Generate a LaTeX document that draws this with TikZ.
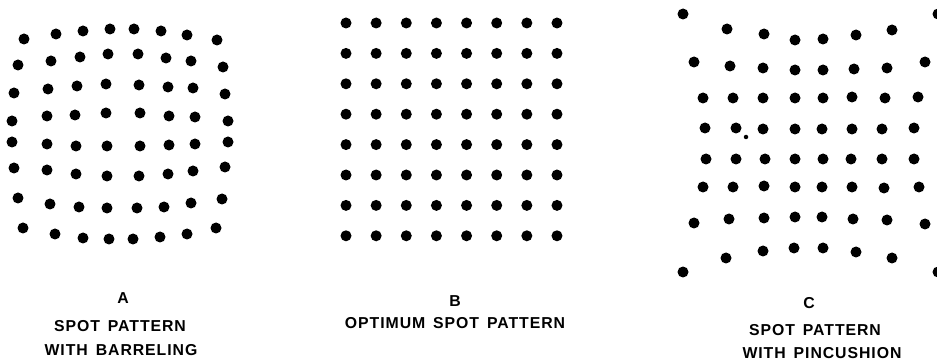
\documentclass[tikz,border=0pt]{standalone}
\usepackage{fontspec}
\setmainfont{Liberation Sans}

\tikzset{
  spot/.style={fill=black},
  caption/.style={anchor=base, inner sep=0pt, font=\bfseries\fontsize{9}{11}\selectfont\addfontfeature{LetterSpace=6}}
}
\newcommand{\wsp}{\hspace{0.5em}}

\begin{document}
\begin{tikzpicture}[x=0.02cm, y=-0.02cm]
	\useasboundingbox (0,0) rectangle (937,361);

	% A: barreling
	\foreach \p in {(24,39),(56,34),(83,31),(110,29),(134,29),(161,31),(187,35),(217,40),
		(18,65),(51,61),(80,57),(108,54),(138,54),(166,58),(191,61),(223,67),
		(14,93),(48,89),(77,86),(106,84),(139,85),(168,87),(193,88),(225,94),
		(12,121),(47,116),(75,115),(106,113),(140,113),(169,116),(195,117),(228,121),
		(12,142),(47,144),(76,146),(107,146),(140,146),(169,145),(195,144),(228,142),
		(14,168),(47,170),(76,174),(107,176),(139,176),(168,174),(193,171),(225,167),
		(18,198),(50,204),(79,207),(107,208),(137,208),(164,207),(191,203),(222,199),
		(23,228),(55,234),(83,238),(109,239),(133,239),(160,237),(187,234),(216,228)}
		\fill[spot] \p circle[radius=0.11cm];

	% B: optimum
	\foreach \i in {0,...,7}
		\foreach \j in {0,...,7}
			\fill[spot] (346+30.14*\i, 23+30.4*\j) circle[radius=0.11cm];

	% C: pincushion
	\foreach \p in {(683,14),(727,29),(764,34),(795,40),(823,39),(856,35),(892,30),(938,14),
		(694,62),(730,66),(763,68),(795,70),(823,70),(854,69),(887,68),(925,62),
		(703,98),(733,98),(763,98),(795,98),(823,98),(852,97),(885,98),(918,97),
		(705,128),(736,128),(763,129),(795,129),(822,129),(852,129),(882,129),(914,128),
		(706,159),(736,159),(765,159),(795,159),(823,159),(851,159),(882,159),(914,159),
		(703,187),(733,187),(764,186),(795,187),(822,187),(852,187),(884,188),(919,187),
		(694,223),(729,219),(764,218),(795,217),(822,217),(853,219),(887,220),(925,224),
		(683,272),(726,258),(763,251),(794,248),(823,248),(856,252),(892,258),(938,272)}
		\fill[spot] \p circle[radius=0.11cm];
	\fill[spot] (746,137) circle[radius=0.045cm];

	% captions
	\node[caption] (labA) at (123,304) {A};
	\node[caption] (labA1) at (120,332) {SPOT\wsp PATTERN};
	\node[caption] (labA2) at (121,356) {WITH\wsp BARRELING};

	\node[caption] (labB) at (455,307) {B};
	\node[caption] (labB1) at (455,329) {OPTIMUM\wsp SPOT\wsp PATTERN};

	\node[caption] (labC) at (809,309) {C};
	\node[caption] (labC1) at (815,336) {SPOT\wsp PATTERN};
	\node[caption] (labC2) at (822,358) {WITH\wsp PINCUSHION};

\end{tikzpicture}
\end{document}
